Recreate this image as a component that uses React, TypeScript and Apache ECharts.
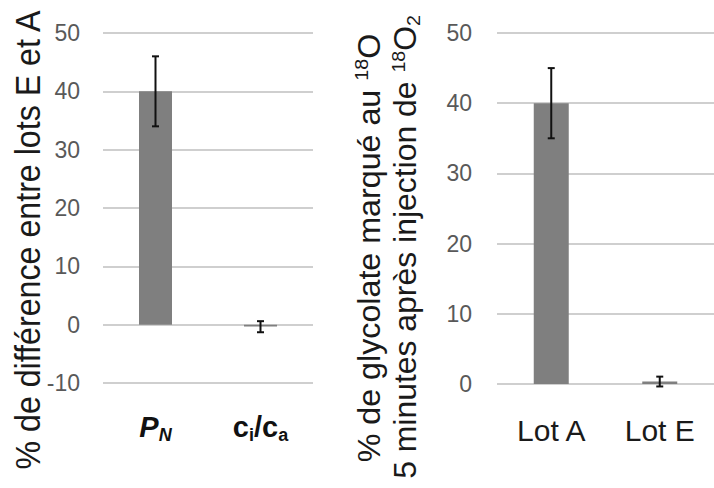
import React, { useEffect, useRef } from 'react';
import * as echarts from 'echarts';

const leftCategories = ['PN', 'ci/ca'];
const leftValues = [40, -0.3];
const leftErrLow = [34, -1.3];
const leftErrHigh = [46, 0.6];
const leftAxisMin = -10;
const leftAxisMax = 50;

const rightCategories = ['Lot A', 'Lot E'];
const rightValues = [40, 0.35];
const rightErrLow = [35, -0.35];
const rightErrHigh = [45, 1.05];
const rightAxisMin = 0;
const rightAxisMax = 50;

const tickInterval = 10;

const leftTitle = '% de différence entre lots E et A';
const rightTitle1 = '% de glycolate marqué au {sup|18}O';
const rightTitle2 = '5 minutes après injection de {sup|18}O{sub|2}';

const FONT = '"Liberation Sans", Arial, sans-serif';

function errorRender(params: any, api: any) {
  const x = api.value(0);
  const lo = api.value(1);
  const hi = api.value(2);
  const pLo = api.coord([x, lo]);
  const pHi = api.coord([x, hi]);
  const cap = 3.5;
  const st = { stroke: '#111', lineWidth: 2 };
  return {
    type: 'group',
    children: [
      { type: 'line', shape: { x1: pLo[0], y1: pLo[1], x2: pHi[0], y2: pHi[1] }, style: st },
      { type: 'line', shape: { x1: pHi[0] - cap, y1: pHi[1], x2: pHi[0] + cap, y2: pHi[1] }, style: st },
      { type: 'line', shape: { x1: pLo[0] - cap, y1: pLo[1], x2: pLo[0] + cap, y2: pLo[1] }, style: st },
    ],
  };
}

export default function App() {
  const ref = useRef<HTMLDivElement>(null);
  useEffect(() => {
    if (!ref.current) return;
    const chart = echarts.init(ref.current, undefined, { renderer: 'svg' });
    const yAxisCommon = {
      type: 'value',
      interval: tickInterval,
      axisLine: { show: false },
      axisTick: { show: false },
      splitLine: { lineStyle: { color: '#bfbfbf', width: 1.5 } },
      axisLabel: { color: '#595959', fontSize: 23, fontFamily: FONT },
    };
    const option: any = {
      animation: false,
      backgroundColor: '#ffffff',
      grid: [
        { left: 103, top: 33, width: 210, bottom: 105 },
        { left: 497, top: 33, width: 226, bottom: 104 },
      ],
      xAxis: [
        {
          type: 'category',
          gridIndex: 0,
          data: leftCategories,
          axisLine: { show: false },
          axisTick: { show: false },
          axisLabel: {
            interval: 0,
            margin: 27,
            formatter: (v: string) => (v === 'PN' ? '{pb|P}{ps|N}' : '{cb|c}{cs|i}{cb|/c}{cs|a}'),
            rich: {
              pb: { fontSize: 29, fontWeight: 'bold', fontStyle: 'italic', color: '#111', fontFamily: FONT, lineHeight: 34, verticalAlign: 'middle' },
              ps: { fontSize: 18, fontWeight: 'bold', fontStyle: 'italic', color: '#111', fontFamily: FONT, lineHeight: 18, verticalAlign: 'bottom' },
              cb: { fontSize: 29, fontWeight: 'bold', color: '#111', fontFamily: FONT, lineHeight: 34, verticalAlign: 'middle' },
              cs: { fontSize: 18, fontWeight: 'bold', color: '#111', fontFamily: FONT, lineHeight: 18, verticalAlign: 'bottom' },
            },
          },
        },
        {
          type: 'category',
          gridIndex: 1,
          data: rightCategories,
          axisLine: { show: false },
          axisTick: { show: false },
          axisLabel: { interval: 0, margin: 31, fontSize: 30, color: '#1a1a1a', fontFamily: FONT },
        },
      ],
      yAxis: [
        { ...yAxisCommon, gridIndex: 0, min: leftAxisMin, max: leftAxisMax, axisLabel: { ...yAxisCommon.axisLabel, margin: 23 } },
        { ...yAxisCommon, gridIndex: 1, min: rightAxisMin, max: rightAxisMax, axisLabel: { ...yAxisCommon.axisLabel, margin: 25 } },
      ],
      series: [
        { type: 'bar', xAxisIndex: 0, yAxisIndex: 0, data: leftValues, barWidth: 33, itemStyle: { color: '#7f7f7f' } },
        {
          type: 'custom', xAxisIndex: 0, yAxisIndex: 0, z: 5,
          data: leftCategories.map((_, i) => [i, leftErrLow[i], leftErrHigh[i]]),
          encode: { x: 0, y: [1, 2] },
          renderItem: errorRender,
        },
        { type: 'bar', xAxisIndex: 1, yAxisIndex: 1, data: rightValues, barWidth: 35, itemStyle: { color: '#7f7f7f' } },
        {
          type: 'custom', xAxisIndex: 1, yAxisIndex: 1, z: 5,
          data: rightCategories.map((_, i) => [i, rightErrLow[i], rightErrHigh[i]]),
          encode: { x: 0, y: [1, 2] },
          renderItem: errorRender,
        },
      ],
      graphic: [
        {
          type: 'text', x: 28, y: 240, rotation: Math.PI / 2, scaleX: 0.92,
          style: { text: leftTitle, fontSize: 35, fontFamily: FONT, fill: '#1a1a1a', align: 'center', verticalAlign: 'middle' },
        },
        {
          type: 'text', x: 369, y: 248, rotation: Math.PI / 2, scaleX: 1.04,
          style: {
            text: rightTitle1, fontSize: 31, fontFamily: FONT, fill: '#1a1a1a', align: 'center', verticalAlign: 'middle', lineHeight: 34,
            rich: { sup: { fontSize: 19, fontFamily: FONT, fill: '#1a1a1a', verticalAlign: 'top', lineHeight: 20 } },
          },
        },
        {
          type: 'text', x: 406, y: 247, rotation: Math.PI / 2, scaleX: 1.03,
          style: {
            text: rightTitle2, fontSize: 31, fontFamily: FONT, fill: '#1a1a1a', align: 'center', verticalAlign: 'middle', lineHeight: 34,
            rich: {
              sup: { fontSize: 19, fontFamily: FONT, fill: '#1a1a1a', verticalAlign: 'top', lineHeight: 20 },
              sub: { fontSize: 19, fontFamily: FONT, fill: '#1a1a1a', verticalAlign: 'bottom', lineHeight: 20 },
            },
          },
        },
      ],
    };
    chart.setOption(option);
    return () => chart.dispose();
  }, []);
  return <div ref={ref} style={{ position: 'fixed', left: 0, top: 0, width: 714, height: 488 }} />;
}
